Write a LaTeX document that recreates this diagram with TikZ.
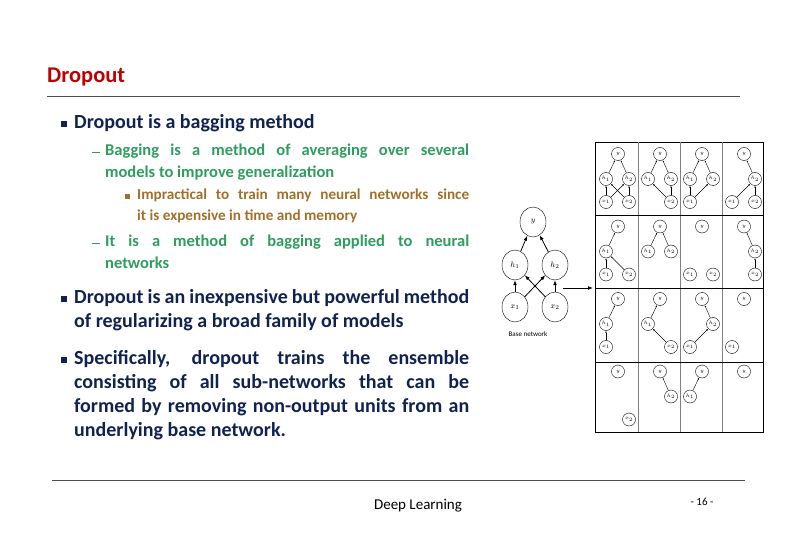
\documentclass[tikz,border=0pt]{standalone}
\usepackage{fontspec}
\setmainfont{Carlito}
\usetikzlibrary{arrows.meta,positioning,shapes.geometric}
\hyphenpenalty=10000

\definecolor{titlered}{HTML}{C00000}
\definecolor{navy}{HTML}{10224F}
\definecolor{subgreen}{HTML}{2E9E5E}
\definecolor{ochre}{HTML}{A0702A}

\tikzset{
  txt/.style={anchor=north west, inner sep=0pt, align=justify},
  bigunit/.style={draw, ellipse, minimum width=26pt, minimum height=30pt, inner sep=0pt, font=\footnotesize},
  smallunit/.style={draw, circle, minimum size=13pt, inner sep=0pt, font=\fontsize{5.5}{5.5}\selectfont},
  conn/.style={-{Latex[length=5pt]}, thick},
  sconn/.style={-{Latex[length=2pt]}}
}

\begin{document}
\begin{tikzpicture}[x=1pt,y=-1pt]
	\useasboundingbox (0,0) rectangle (792,540);
	
	% title and rules
	\node[anchor=west, inner sep=0pt, font=\fontsize{22.5}{22.5}\selectfont\bfseries, text=titlered] (title) at (47,77) {Dropout};
	\draw[gray!60!black] (47,96) -- (740,96);
	\draw[gray!60!black] (52,480) -- (745,480);
	\node[font=\fontsize{15}{15}\selectfont] (foot) at (418,506) {Deep Learning};
	\node[font=\fontsize{11}{11}\selectfont] (page) at (702,502) {- 16 -};
	
	% bullets
	\foreach \yy in {124,299,360}
		\fill[navy] (61,\yy-3) rectangle (67,\yy+3);
	\foreach \yy in {152,243}
		\draw[subgreen] (92,\yy) -- (100,\yy);
	\fill[ochre] (125,194) rectangle (130,199);
	
	% text
	\node[txt, text width=395pt, font=\fontsize{20}{24}\selectfont\bfseries, text=navy] (m1) at (74,114) {Dropout is a bagging method};
	\node[txt, text width=364pt, font=\fontsize{16.5}{21.5}\selectfont\bfseries, text=subgreen] (s1) at (105,144) {Bagging is a method of averaging over several\linebreak models to improve generalization};
	\node[txt, text width=332pt, font=\fontsize{15.2}{21}\selectfont\bfseries, text=ochre] (ss1) at (137,189) {Impractical to train many neural networks since\linebreak it is expensive in time and memory};
	\node[txt, text width=364pt, font=\fontsize{16.5}{21.5}\selectfont\bfseries, text=subgreen] (s2) at (105,235) {It is a method of bagging applied to neural\linebreak networks};
	\node[txt, text width=395pt, font=\fontsize{20}{24}\selectfont\bfseries, text=navy] (m2) at (74,289) {Dropout is an inexpensive but powerful method\linebreak of regularizing a broad family of models};
	\node[txt, text width=395pt, font=\fontsize{20}{24}\selectfont\bfseries, text=navy] (m3) at (74,350) {Specifically, dropout trains the ensemble\linebreak consisting of all sub-networks that can be\linebreak formed by removing non-output units from an\linebreak underlying base network.};
	
	% base network
	\node[bigunit] (y) at (533,222) {$y$};
	\node[bigunit] (h1) at (515,265) {$h_1$};
	\node[bigunit] (h2) at (555,265) {$h_2$};
	\node[bigunit] (x1) at (515,307) {$x_1$};
	\node[bigunit] (x2) at (555,307) {$x_2$};
	\foreach \a/\b in {x1/h1,x1/h2,x2/h1,x2/h2,h1/y,h2/y}
		\draw[conn] (\a) -- (\b);
	\node[font=\fontsize{7}{7}\selectfont] (basecap) at (528,334) {Base network};
	\coordinate (arrS) at (563,288);
	\coordinate (arrE) at (593,288);
	\draw[conn] (arrS) -- (arrE);
	
	% ensemble grid
	\draw[thick] (595,142) rectangle (763,432);
	\foreach \xx in {638,680,722}
		\draw[gray] (\xx,142) -- (\xx,432);
	\foreach \yy in {215,288,362}
		\draw[thick] (595,\yy) -- (763,\yy);
	
	% sub-networks: index/column/row/units/edges
	\foreach \k/\c/\r/\units/\edges in {
		a/0/0/{y/y,h1/h_1,h2/h_2,x1/x_1,x2/x_2}/{x1/h1,x1/h2,x2/h1,x2/h2,h1/y,h2/y},
		b/1/0/{y/y,h1/h_1,h2/h_2,x2/x_2}/{x2/h1,x2/h2,h1/y,h2/y},
		c/2/0/{y/y,h1/h_1,h2/h_2,x1/x_1}/{x1/h1,x1/h2,h1/y,h2/y},
		d/3/0/{y/y,h2/h_2,x1/x_1,x2/x_2}/{x1/h2,x2/h2,h2/y},
		e/0/1/{y/y,h1/h_1,x1/x_1,x2/x_2}/{x1/h1,x2/h1,h1/y},
		f/1/1/{y/y,h1/h_1,h2/h_2}/{h1/y,h2/y},
		g/2/1/{y/y,x1/x_1,x2/x_2}/{},
		h/3/1/{y/y,h2/h_2,x2/x_2}/{x2/h2,h2/y},
		i/0/2/{y/y,h1/h_1,x1/x_1}/{x1/h1,h1/y},
		j/1/2/{y/y,h1/h_1,x2/x_2}/{x2/h1,h1/y},
		k/2/2/{y/y,h2/h_2,x1/x_1}/{x1/h2,h2/y},
		l/3/2/{y/y,x1/x_1}/{},
		m/0/3/{y/y,x2/x_2}/{},
		n/1/3/{y/y,h2/h_2}/{h2/y},
		o/2/3/{y/y,h1/h_1}/{h1/y},
		p/3/3/{y/y}/{}} {
		\begin{scope}[shift={(595+42*\c,142+72.5*\r)}]
			\coordinate (\k-py) at (23,12);
			\coordinate (\k-ph1) at (11,37);
			\coordinate (\k-ph2) at (34,37);
			\coordinate (\k-px1) at (11,60);
			\coordinate (\k-px2) at (34,60);
			\foreach \u/\lbl in \units
				\node[smallunit] (\k-\u) at (\k-p\u) {$\lbl$};
			\foreach \a/\b in \edges
				\draw[sconn] (\k-\a) -- (\k-\b);
		\end{scope}
	}
\end{tikzpicture}
\end{document}
